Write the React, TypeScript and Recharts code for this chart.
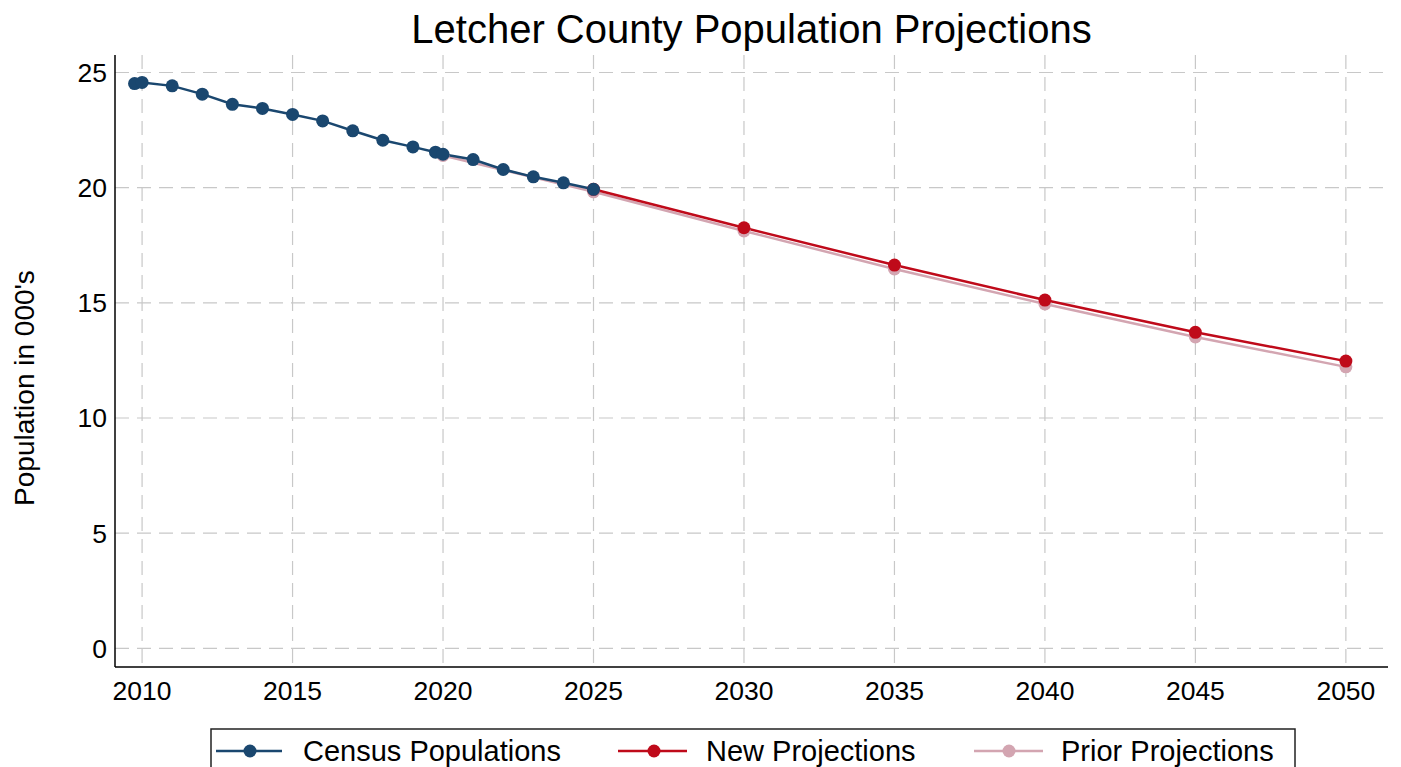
import React from 'react'
import { LineChart, Line, XAxis, YAxis, CartesianGrid } from 'recharts'

// census estimates (thousands)
const censusYears = [
  2009.75, 2010, 2011, 2012, 2013, 2014, 2015, 2016, 2017, 2018, 2019, 2019.75,
  2020, 2021, 2022, 2023, 2024, 2025,
]
const censusPop = [
  24.52, 24.57, 24.42, 24.06, 23.62, 23.44, 23.18, 22.9, 22.47, 22.06, 21.77,
  21.54, 21.45, 21.22, 20.79, 20.47, 20.21, 19.93,
]

const newYears = [2025, 2030, 2035, 2040, 2045, 2050]
const newPop = [19.93, 18.26, 16.64, 15.12, 13.72, 12.47]

const priorYears = [2020, 2025, 2030, 2035, 2040, 2045, 2050]
const priorPop = [21.4, 19.82, 18.12, 16.47, 14.95, 13.52, 12.22]

const xTicks = [2010, 2015, 2020, 2025, 2030, 2035, 2040, 2045, 2050]
const yTicks = [0, 5, 10, 15, 20, 25]

const title = 'Letcher County Population Projections'
const yLabel = "Population in 000's"
const seriesNames = ['Census Populations', 'New Projections', 'Prior Projections']

const CENSUS = '#1a476f'
const NEW = '#bf0a1a'
const PRIOR = '#d3a5b1'
const FONT = '"Liberation Sans", Arial, sans-serif'

const toRows = (years: number[], vals: number[]) =>
  years.map((year, i) => ({ year, pop: vals[i] }))

const censusData = toRows(censusYears, censusPop)
const newData = toRows(newYears, newPop)
const priorData = toRows(priorYears, priorPop)

const legendItems = [
  { name: seriesNames[0], color: CENSUS, x1: 216, x2: 282, cx: 250, tx: 303 },
  { name: seriesNames[1], color: NEW, x1: 618, x2: 687, cx: 654, tx: 706 },
  { name: seriesNames[2], color: PRIOR, x1: 974, x2: 1043, cx: 1009, tx: 1061 },
]

const tickStyle = { fontSize: 26.5, fill: '#000', fontFamily: FONT }

const App: React.FC = () => {
  return (
    <div
      style={{
        position: 'absolute',
        left: 0,
        top: 0,
        width: 1401,
        height: 767,
        background: '#fff',
        overflow: 'hidden',
        fontFamily: FONT,
      }}
    >
      <LineChart
        width={1401}
        height={767}
        margin={{ top: 55, right: 13, bottom: 60, left: 45 }}
      >
        {/* grid only at the tick values, nothing on the plot edges */}
        <CartesianGrid
          stroke="#c8c8c8"
          strokeWidth={1.2}
          strokeDasharray="14 8"
          horizontalValues={yTicks}
          verticalValues={xTicks}
        />
        <XAxis
          type="number"
          dataKey="year"
          domain={[2009.1, 2051.4]}
          ticks={xTicks}
          allowDataOverflow
          height={40}
          tickLine={false}
          tickMargin={8}
          tick={tickStyle}
          axisLine={{ stroke: '#000', strokeWidth: 1.5 }}
        />
        <YAxis
          type="number"
          dataKey="pop"
          domain={[-0.81, 25.76]}
          ticks={yTicks}
          allowDataOverflow
          width={70}
          tickLine={false}
          tickMargin={2}
          tick={tickStyle}
          axisLine={{ stroke: '#000', strokeWidth: 1.5 }}
        />
        <Line
          data={priorData}
          dataKey="pop"
          name={seriesNames[2]}
          stroke={PRIOR}
          strokeWidth={2.5}
          dot={{ r: 6.5, fill: PRIOR, stroke: 'none' }}
          activeDot={false}
          isAnimationActive={false}
        />
        <Line
          data={newData}
          dataKey="pop"
          name={seriesNames[1]}
          stroke={NEW}
          strokeWidth={2.5}
          dot={{ r: 6.5, fill: NEW, stroke: 'none' }}
          activeDot={false}
          isAnimationActive={false}
        />
        <Line
          data={censusData}
          dataKey="pop"
          name={seriesNames[0]}
          stroke={CENSUS}
          strokeWidth={2.5}
          dot={{ r: 6.5, fill: CENSUS, stroke: 'none' }}
          activeDot={false}
          isAnimationActive={false}
        />
      </LineChart>

      {/* title, axis title and legend drawn on top */}
      <svg
        width={1401}
        height={767}
        style={{ position: 'absolute', left: 0, top: 0, pointerEvents: 'none' }}
      >
        <text x={751.5} y={43} textAnchor="middle" fontSize={40} fill="#000" fontFamily={FONT}>
          {title}
        </text>
        <text
          x={34}
          y={388}
          textAnchor="middle"
          fontSize={28}
          fill="#000"
          fontFamily={FONT}
          transform="rotate(-90, 34, 388)"
        >
          {yLabel}
        </text>
        <rect x={211} y={729} width={1084} height={60} fill="#fff" stroke="#222" strokeWidth={1.5} />
        {legendItems.map((it) => (
          <g key={it.name}>
            <line x1={it.x1} x2={it.x2} y1={751} y2={751} stroke={it.color} strokeWidth={2.5} />
            <circle cx={it.cx} cy={751} r={6.5} fill={it.color} />
            <text x={it.tx} y={761} fontSize={29} fill="#000" fontFamily={FONT}>
              {it.name}
            </text>
          </g>
        ))}
      </svg>
    </div>
  )
}

export default App
